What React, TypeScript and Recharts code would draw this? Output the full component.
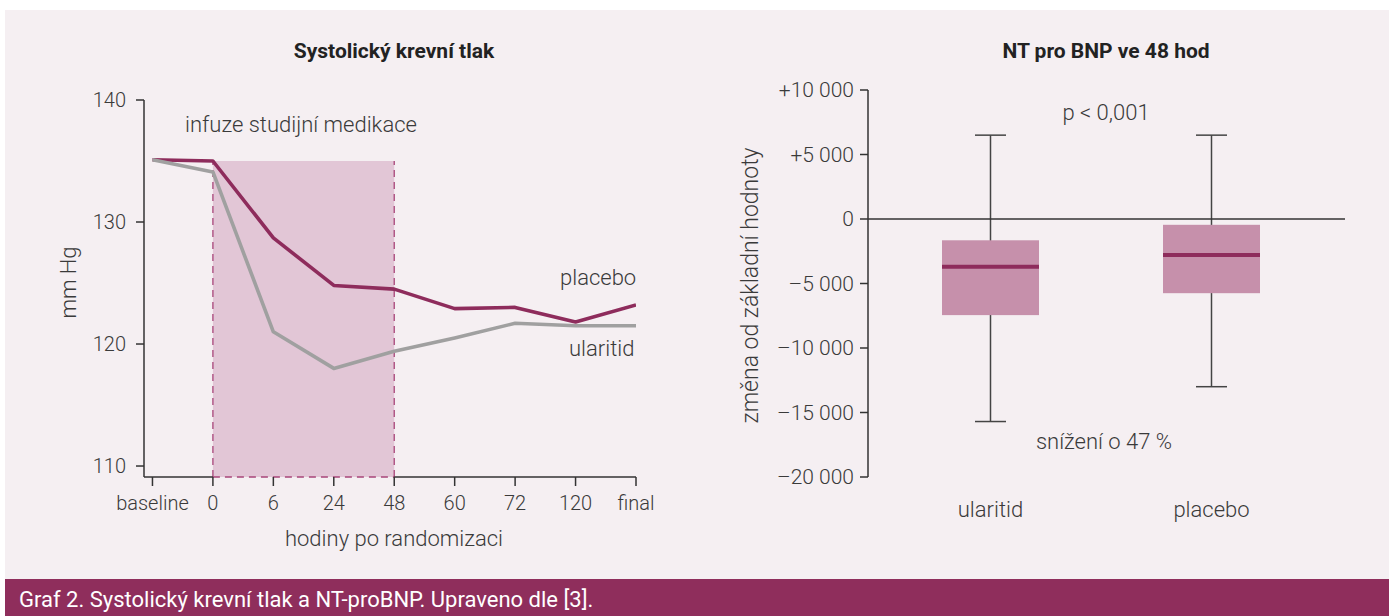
import { LineChart, Line, XAxis, YAxis, ReferenceArea, ReferenceLine, ComposedChart, Bar } from "recharts";

// systolic BP, mm Hg
const xLabels = ["baseline", "0", "6", "24", "48", "60", "72", "120", "final"];
const placebo = [135.1, 135.0, 128.7, 124.8, 124.5, 122.9, 123.0, 121.8, 123.2];
const ularitid = [135.1, 134.1, 121.0, 118.0, 119.4, 120.5, 121.7, 121.5, 121.5];
const bpTicks = [110, 120, 130, 140];

// NT-proBNP change at 48 h
const groups = ["ularitid", "placebo"];
const whiskerLow = [-15700, -13000];
const q1 = [-7450, -5750];
const median = [-3700, -2800];
const q3 = [-1650, -450];
const whiskerHigh = [6500, 6500];
const nbpTicks = [-20000, -15000, -10000, -5000, 0, 5000, 10000];

const FONT = "Roboto, 'Open Sans', sans-serif";
const TEXT = "#3a3a3a";
const AXIS = "#333";
const MAROON = "#8e2c5c";
const GREY = "#a0a0a0";
const SHADE = "#e2c6d6";
const BOX = "#c690ab";
const BG = "#f5eff2";

const BP_MIN = 109.1;

const bpData = xLabels.map((l, i) => ({ i, label: l, placebo: placebo[i], ularitid: ularitid[i] }));
const nbpData = groups.map((g, i) => ({
  name: g,
  range: [whiskerLow[i], whiskerHigh[i]],
  q1: q1[i],
  q3: q3[i],
  median: median[i],
}));

const fmtNbp = (v: number) => {
  const s = Math.abs(v).toString().replace(/\B(?=(\d{3})+(?!\d))/g, " ");
  if (v > 0) return "+" + s;
  if (v < 0) return "\u2013" + s;
  return s;
};

const tickStyle = { fill: TEXT, fontSize: 20, fontFamily: FONT, fontWeight: 300 };

function BoxShape(props: any) {
  const { x, y, width, height, payload } = props;
  const [lo, hi] = payload.range;
  const top = Math.min(y, y + height);
  const h = Math.abs(height);
  const py = (v: number) => top + ((hi - v) / (hi - lo)) * h;
  const cx = x + width / 2;
  const cap = 15.5;
  return (
    <g>
      <line x1={cx} x2={cx} y1={py(hi)} y2={py(lo)} stroke="#444" strokeWidth={1.5} />
      <line x1={cx - cap} x2={cx + cap} y1={py(hi)} y2={py(hi)} stroke="#444" strokeWidth={1.5} />
      <line x1={cx - cap} x2={cx + cap} y1={py(lo)} y2={py(lo)} stroke="#444" strokeWidth={1.5} />
      <rect x={x} y={py(payload.q3)} width={width} height={py(payload.q1) - py(payload.q3)} fill={BOX} />
      <line x1={x} x2={x + width} y1={py(payload.median)} y2={py(payload.median)} stroke={MAROON} strokeWidth={4} />
    </g>
  );
}

const abs = (left: number, top: number, extra: any = {}) => ({
  position: "absolute" as const,
  left,
  top,
  fontFamily: FONT,
  color: TEXT,
  whiteSpace: "nowrap" as const,
  ...extra,
});

const note = { fontSize: 22, fontWeight: 300 };

export default function App() {
  return (
    <div style={{ position: "absolute", left: 0, top: 0, width: 1389, height: 616, background: "#fff", overflow: "hidden" }}>
      <div style={{ position: "absolute", left: 5, top: 10, width: 1384, height: 569, background: BG }} />

      {/* left: systolic BP */}
      <div style={{ position: "absolute", left: 0, top: 0 }}>
        <LineChart width={700} height={579} data={bpData} margin={{ top: 100, right: 64, left: 84, bottom: 72 }}>
          <ReferenceArea x1={1} x2={4} y1={BP_MIN} y2={135} fill={SHADE} fillOpacity={1} stroke="none" />
          <ReferenceLine segment={[{ x: 1, y: BP_MIN }, { x: 1, y: 135 }]} stroke="#a8467a" strokeWidth={1.3} strokeDasharray="7 5" />
          <ReferenceLine segment={[{ x: 4, y: BP_MIN }, { x: 4, y: 135 }]} stroke="#a8467a" strokeWidth={1.3} strokeDasharray="7 5" />
          <ReferenceLine segment={[{ x: 1, y: BP_MIN }, { x: 4, y: BP_MIN }]} stroke="#a8467a" strokeWidth={1.3} strokeDasharray="7 5" />
          <ReferenceLine segment={[{ x: -0.14, y: BP_MIN }, { x: 1, y: BP_MIN }]} stroke={AXIS} strokeWidth={1.5} />
          <ReferenceLine segment={[{ x: 4, y: BP_MIN }, { x: 8, y: BP_MIN }]} stroke={AXIS} strokeWidth={1.5} />
          <XAxis
            type="number"
            dataKey="i"
            domain={[-0.14, 8]}
            ticks={[0, 1, 2, 3, 4, 5, 6, 7, 8]}
            interval={0}
            allowDataOverflow
            tickFormatter={(v: number) => xLabels[v]}
            axisLine={false}
            tickSize={9}
            tickMargin={10}
            tickLine={{ stroke: AXIS, strokeWidth: 1.5 }}
            tick={tickStyle}
          />
          <YAxis
            domain={[BP_MIN, 140]}
            ticks={bpTicks}
            allowDataOverflow
            width={60}
            tickSize={8}
            tickMargin={10}
            axisLine={{ stroke: AXIS, strokeWidth: 1.5 }}
            tickLine={{ stroke: AXIS, strokeWidth: 1.5 }}
            tick={tickStyle}
          />
          <Line dataKey="placebo" stroke={MAROON} strokeWidth={3.6} dot={false} isAnimationActive={false} strokeLinejoin="round" />
          <Line dataKey="ularitid" stroke={GREY} strokeWidth={3.6} dot={false} isAnimationActive={false} strokeLinejoin="round" />
        </LineChart>
      </div>
      <div style={abs(244, 39, { width: 300, textAlign: "center", fontSize: 21, fontWeight: 700, color: "#222" })}>Systolický krevní tlak</div>
      <div style={abs(185, 112, note)}>infuze studijní medikace</div>
      <div style={abs(560, 265, note)}>placebo</div>
      <div style={abs(569, 336, note)}>ularitid</div>
      <div style={abs(244, 526, { width: 300, textAlign: "center", ...note })}>hodiny po randomizaci</div>
      <div style={abs(18, 270, { width: 100, textAlign: "center", ...note, transform: "rotate(-90deg)" })}>mm Hg</div>

      {/* right: NT-proBNP */}
      <div style={{ position: "absolute", left: 700, top: 0 }}>
        <ComposedChart width={689} height={579} data={nbpData} margin={{ top: 90, right: 44, left: 78, bottom: 72 }}>
          <ReferenceLine y={0} stroke={AXIS} strokeWidth={1.5} />
          <XAxis
            dataKey="name"
            axisLine={false}
            tickLine={false}
            tickMargin={18}
            padding={{ left: 12, right: 23 }}
            tick={{ ...tickStyle, fontSize: 22 }}
          />
          <YAxis
            domain={[-20000, 10000]}
            ticks={nbpTicks}
            width={90}
            tickSize={8}
            tickMargin={6}
            tickFormatter={fmtNbp}
            axisLine={{ stroke: AXIS, strokeWidth: 1.5 }}
            tickLine={{ stroke: AXIS, strokeWidth: 1.5 }}
            tick={{ ...tickStyle, fontSize: 21 }}
          />
          <Bar dataKey="range" barSize={97} shape={BoxShape} isAnimationActive={false} />
        </ComposedChart>
      </div>
      <div style={abs(956, 39, { width: 300, textAlign: "center", fontSize: 21, fontWeight: 700, color: "#222" })}>NT pro BNP ve 48 hod</div>
      <div style={abs(1006, 100, { width: 200, textAlign: "center", ...note })}>p &lt; 0,001</div>
      <div style={abs(1004, 429, { width: 200, textAlign: "center", ...note })}>snížení o 47 %</div>
      <div style={abs(600, 272, { width: 300, textAlign: "center", fontSize: 23, fontWeight: 300, transform: "rotate(-90deg)" })}>změna od základní hodnoty</div>

      <div style={{ position: "absolute", left: 5, top: 579, width: 1384, height: 37, background: "#8f2e5c", color: "#fff", fontFamily: FONT, fontSize: 22, lineHeight: "37px", paddingLeft: 14, paddingTop: 2, boxSizing: "border-box" }}>
        Graf 2. Systolický krevní tlak a NT-proBNP. Upraveno dle [3].
      </div>
    </div>
  );
}
